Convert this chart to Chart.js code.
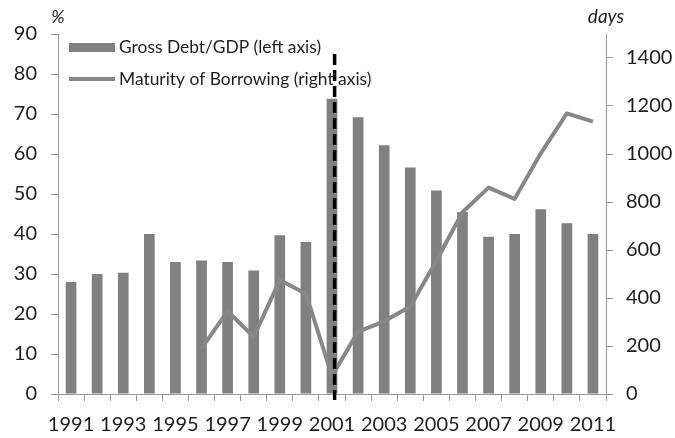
<!DOCTYPE html>
<html><head><meta charset="utf-8">
<script src="https://cdn.jsdelivr.net/npm/chart.js@4.4.0/dist/chart.umd.min.js"></script>
<style>html,body{margin:0;padding:0;background:#fff;}#wrap{width:675px;height:438px;position:relative;}</style>
</head><body><div id="wrap"><canvas id="c" width="675" height="438"></canvas></div>
<script>
const years = ['1991','1992','1993','1994','1995','1996','1997','1998','1999','2000','2001','2002','2003','2004','2005','2006','2007','2008','2009','2010','2011'];
const debtGDP = [28,30,30.3,40,33,33.4,33,30.9,39.7,38,73.8,69.2,62.2,56.6,50.9,45.5,39.3,40,46.2,42.7,40];
const maturityDays = [null,null,null,null,null,190,345,238,475,418,75,260,303,365,555,757,860,813,1003,1169,1135];
const leftTicks = [0,10,20,30,40,50,60,70,80,90];
const rightTicks = [0,200,400,600,800,1000,1200,1400];
const seriesLabels = ['Gross Debt/GDP (left axis)','Maturity of Borrowing (right axis)'];
const axisUnits = ['%','days'];
const markerYear = '2001';
const markerTop = 85;

const FONT = 'Lato';
const TXT = '#1e1e1e';
const AXIS = '#9a9a9a';
const BAR = '#808080';
const LINE = '#878787';

const overlay = {
  id: 'overlay',
  afterDraw(chart) {
    const ctx = chart.ctx, ca = chart.chartArea;
    ctx.save();
    const lx = ca.left + 11, ly = ca.top + 13.5;
    ctx.fillStyle = BAR;
    ctx.fillRect(lx, ly - 4.5, 46, 9);
    ctx.strokeStyle = LINE; ctx.lineWidth = 4;
    ctx.beginPath(); ctx.moveTo(lx, ly + 31.5); ctx.lineTo(lx + 46, ly + 31.5); ctx.stroke();
    ctx.fillStyle = TXT;
    ctx.font = '17.4px ' + FONT;
    ctx.textBaseline = 'middle'; ctx.textAlign = 'left';
    ctx.fillText(seriesLabels[0], lx + 50, ly);
    ctx.fillText(seriesLabels[1], lx + 50, ly + 31.5);
    ctx.font = 'italic 18px ' + FONT;
    ctx.textAlign = 'center'; ctx.textBaseline = 'alphabetic';
    ctx.fillText(axisUnits[0], ca.left, 23);
    ctx.font = 'italic 19px ' + FONT;
    ctx.fillText(axisUnits[1], ca.right, 23);
    const xs = chart.scales.x, ys = chart.scales.y;
    const i = years.indexOf(markerYear);
    const x = xs.getPixelForValue(i) + (xs.width / years.length) * 0.1;
    ctx.strokeStyle = '#000'; ctx.lineWidth = 3.5; ctx.setLineDash([11, 5]);
    ctx.beginPath(); ctx.moveTo(x, ys.getPixelForValue(markerTop)); ctx.lineTo(x, ca.bottom + 6); ctx.stroke();
    ctx.restore();
  }
};

new Chart(document.getElementById('c'), {
  type: 'bar',
  data: {
    labels: years,
    datasets: [
      { type: 'bar', label: seriesLabels[0], data: debtGDP, backgroundColor: BAR, yAxisID: 'y',
        barPercentage: 0.41, categoryPercentage: 1.0, order: 1 },
      { type: 'line', label: seriesLabels[1], data: maturityDays, borderColor: LINE, borderWidth: 4,
        pointRadius: 0, tension: 0, yAxisID: 'y1', borderJoinStyle: 'round', spanGaps: false, fill: false, order: 0 }
    ]
  },
  options: {
    responsive: false, animation: false, devicePixelRatio: 1,
    layout: { padding: { top: 34, left: 0, right: 0, bottom: 0 } },
    plugins: { legend: { display: false }, tooltip: { enabled: false } },
    scales: {
      x: {
        grid: { display: true, drawOnChartArea: false, drawTicks: true, tickLength: 7, color: AXIS, offset: true },
        border: { color: AXIS },
        ticks: { autoSkip: false, maxRotation: 0, minRotation: 0, padding: 12, color: TXT,
          font: { family: FONT, size: 20 }, callback: (v, i) => (i % 2 === 0 ? years[i] : '') },
        afterFit: s => { s.height = 44; }
      },
      y: {
        position: 'left', min: 0, max: 90,
        afterBuildTicks: s => { s.ticks = leftTicks.map(v => ({ value: v })); },
        grid: { drawOnChartArea: false, tickLength: 7, color: AXIS },
        border: { color: AXIS },
        ticks: { padding: 14, color: TXT, font: { family: FONT, size: 20 }, callback: v => String(v) },
        afterFit: s => { s.width = 58; }
      },
      y1: {
        position: 'right', min: 0, max: 1500,
        afterBuildTicks: s => { s.ticks = rightTicks.map(v => ({ value: v })); },
        grid: { drawOnChartArea: false, tickLength: 7, color: AXIS },
        border: { color: AXIS },
        ticks: { padding: 13, color: TXT, font: { family: FONT, size: 20 }, callback: v => String(v) },
        afterFit: s => { s.width = 69; }
      }
    }
  },
  plugins: [overlay]
});
</script></body></html>
